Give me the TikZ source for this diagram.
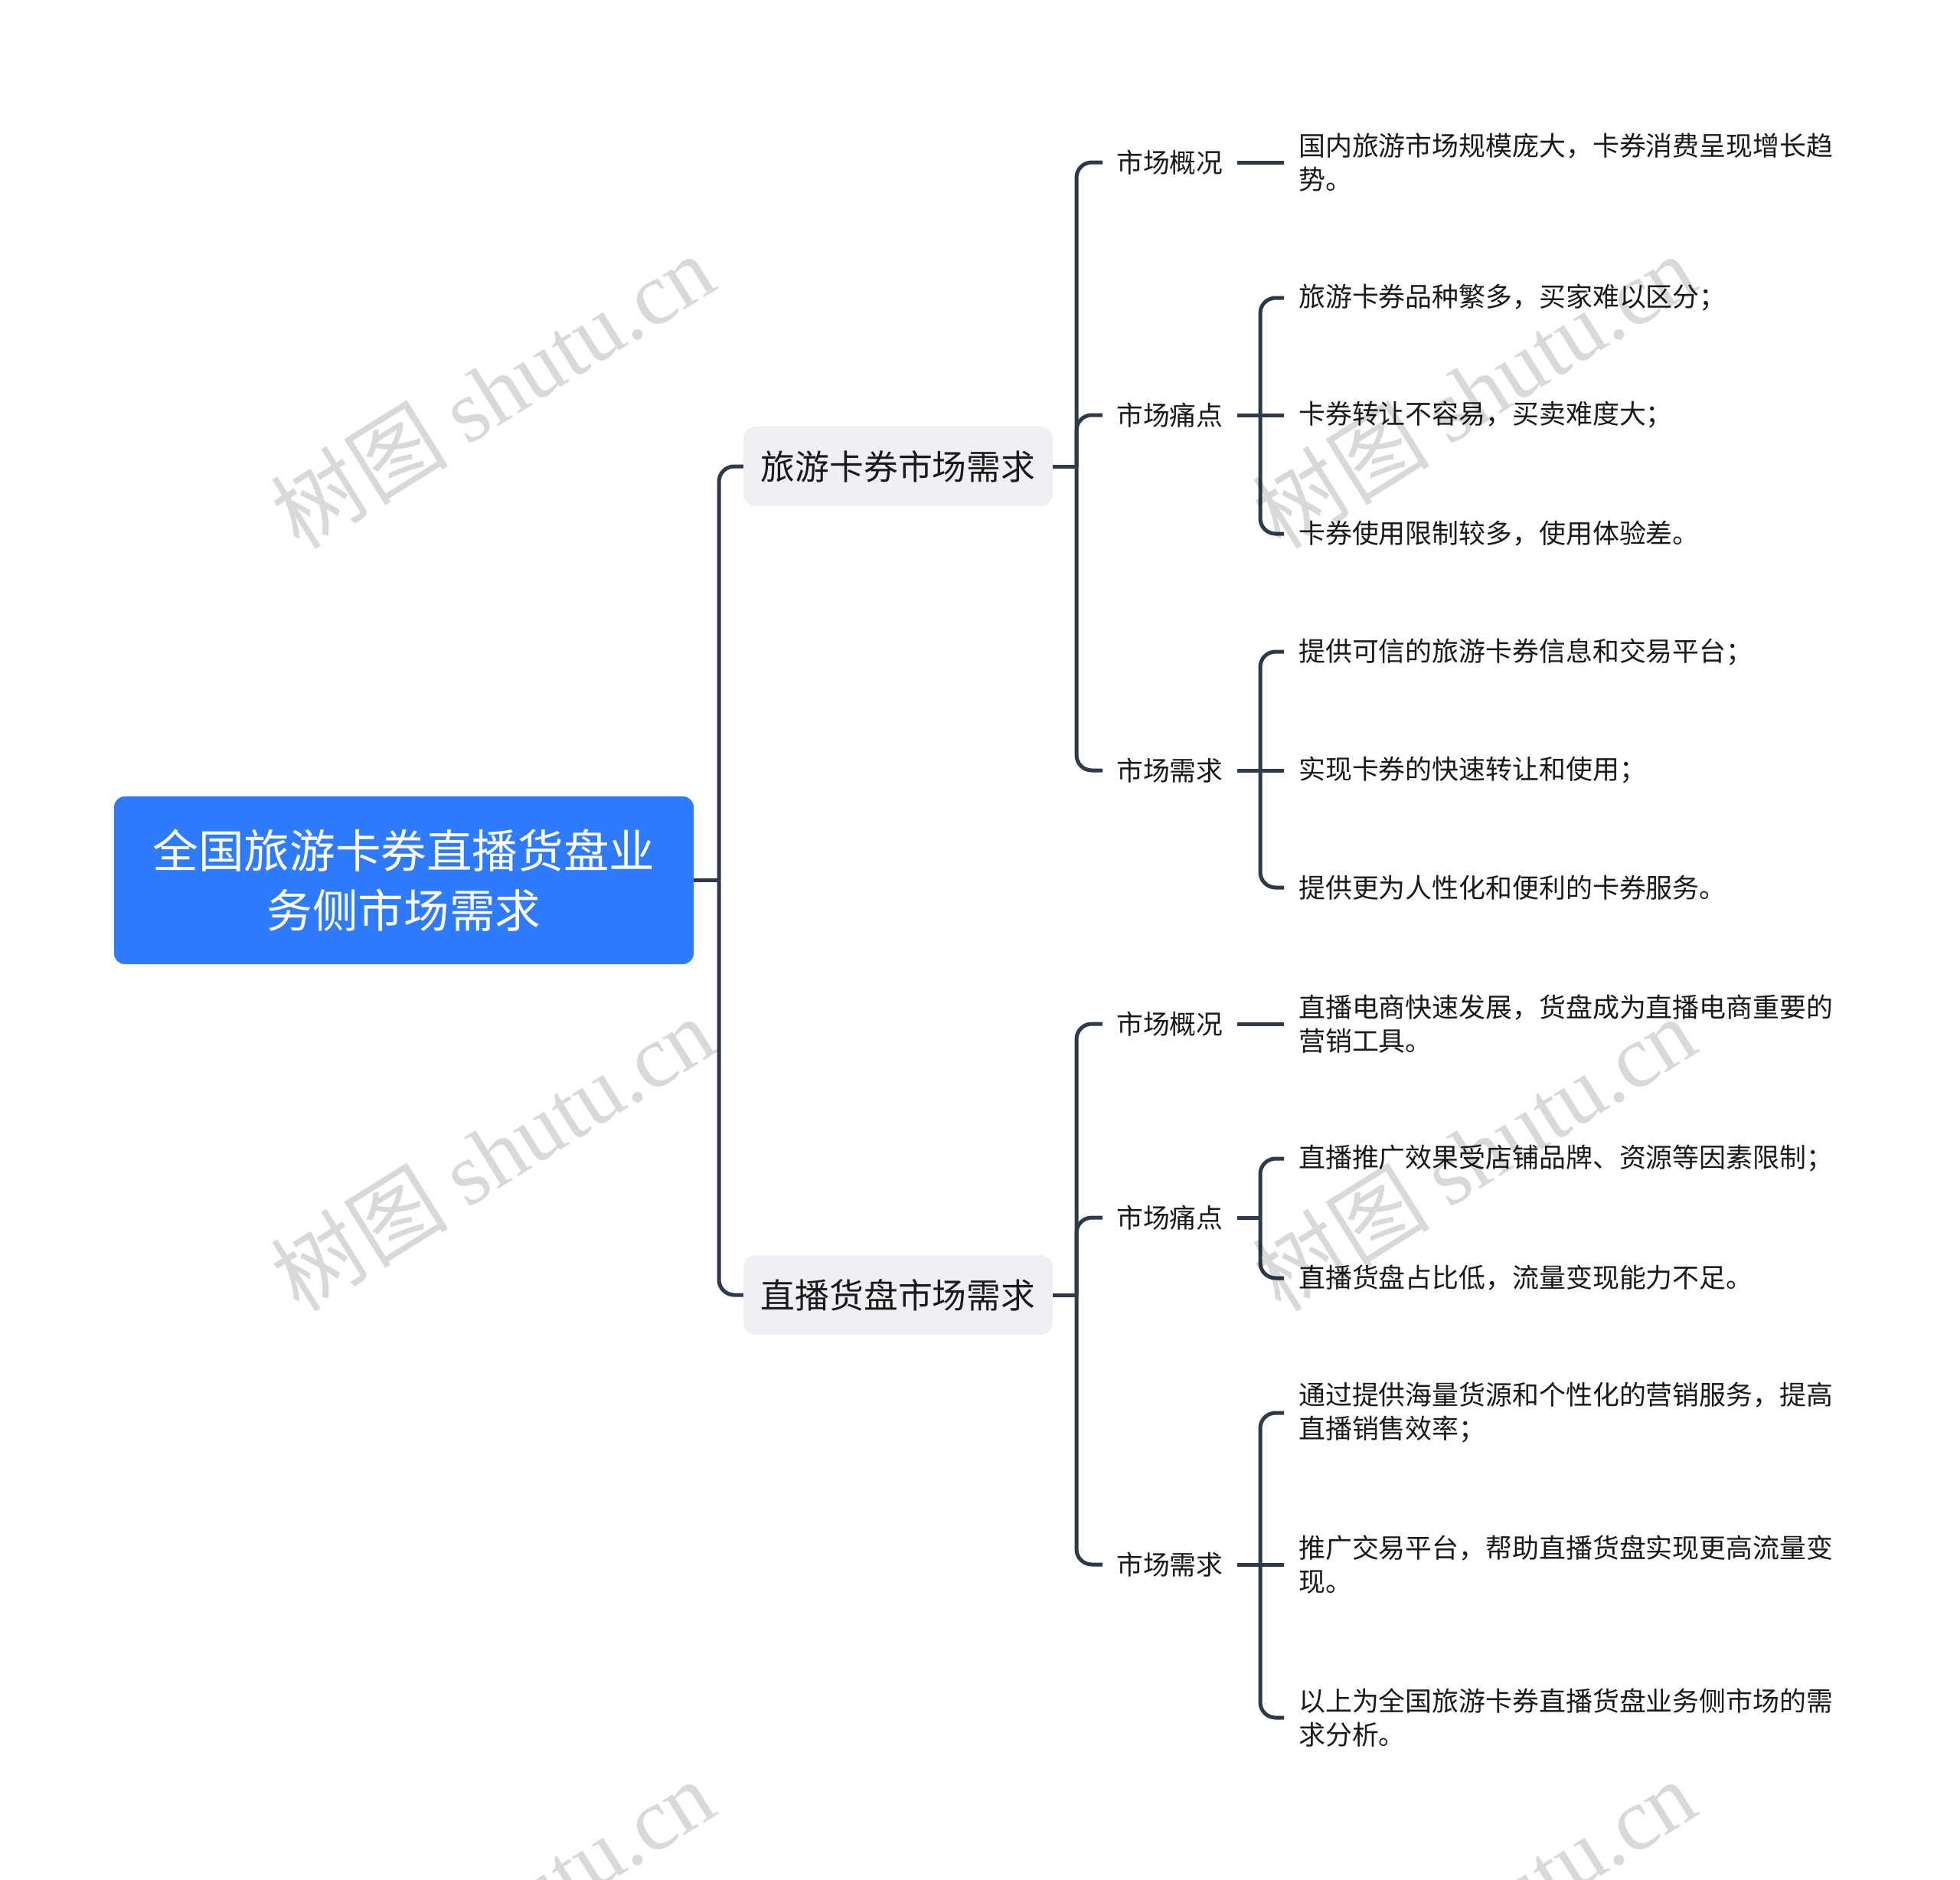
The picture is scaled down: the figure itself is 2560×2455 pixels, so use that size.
\documentclass[tikz,border=0pt]{standalone}
\usepackage{fontspec}
\setmainfont{Noto Sans CJK SC}
\newfontfamily\wmlatin{Liberation Serif}
\definecolor{rootblue}{HTML}{2F7BFF}
\definecolor{subgray}{HTML}{EEF0F3}
\definecolor{linec}{HTML}{2E3A4C}
\definecolor{txt}{HTML}{1A1A1A}
\begin{document}
\begin{tikzpicture}[x=1pt,y=-1pt,
 rootbox/.style={fill=rootblue, rounded corners=14pt, text=white, align=center, minimum width=757pt, minimum height=219pt, inner sep=0pt, font=\fontsize{59.6}{78}\selectfont},
 subbox/.style={fill=subgray, rounded corners=16pt, text=txt, minimum width=404pt, minimum height=104pt, inner sep=0pt, font=\fontsize{44.8}{52}\selectfont},
 lvltwo/.style={anchor=west, inner xsep=18pt, inner ysep=6pt, text=txt, font=\fontsize{34.8}{44}\selectfont},
 leaf/.style={anchor=west, inner xsep=19pt, inner ysep=6pt, text=txt, align=left, font=\fontsize{34.9}{44}\selectfont},
 conn/.style={draw=linec, line width=5pt},
 branch/.style={conn, rounded corners=20pt},
 wm/.style={rotate=32, text=black, text opacity=0.15, font=\fontsize{116}{116}\selectfont}
]
\fill[white] (0,0) rectangle (2560,2455);
\useasboundingbox (0,0) rectangle (2560,2455);

% root and level 1
\node[rootbox] (root) at (527.5,1149.5) {全国旅游卡券直播货盘业\\务侧市场需求};
\node[subbox] (A) at (1173,609) {旅游卡券市场需求};
\node[subbox] (B) at (1173,1691) {直播货盘市场需求};
\coordinate (rj) at (939,1149.5);
\draw[conn] (root.east) -- (rj);
\draw[branch] (rj) |- (A.west);
\draw[branch] (rj) |- (B.west);

% level 2, group A
\node[lvltwo] (A1) at (1440,212) {市场概况};
\node[lvltwo] (A2) at (1440,542) {市场痛点};
\node[lvltwo] (A3) at (1440,1006) {市场需求};
\coordinate (aj) at (1406,609);
\draw[conn] (A.east) -- (aj);
\draw[branch] (aj) |- (A1.west);
\draw[branch] (aj) |- (A2.west);
\draw[branch] (aj) |- (A3.west);

% leaves A1
\node[leaf] (A1a) at (1677,212) {国内旅游市场规模庞大，卡券消费呈现增长趋\\势。};
\draw[conn] (A1.east) -- (A1a.west);

% leaves A2
\node[leaf] (A2a) at (1677,389) {旅游卡券品种繁多，买家难以区分；};
\node[leaf] (A2b) at (1677,542) {卡券转让不容易，买卖难度大；};
\node[leaf] (A2c) at (1677,697) {卡券使用限制较多，使用体验差。};
\coordinate (a2j) at (1646,542);
\draw[conn] (A2.east) -- (a2j);
\draw[branch] (a2j) |- (A2a.west);
\draw[conn] (a2j) -- (A2b.west);
\draw[branch] (a2j) |- (A2c.west);

% leaves A3
\node[leaf] (A3a) at (1677,851) {提供可信的旅游卡券信息和交易平台；};
\node[leaf] (A3b) at (1677,1006) {实现卡券的快速转让和使用；};
\node[leaf] (A3c) at (1677,1159) {提供更为人性化和便利的卡券服务。};
\coordinate (a3j) at (1646,1006);
\draw[conn] (A3.east) -- (a3j);
\draw[branch] (a3j) |- (A3a.west);
\draw[conn] (a3j) -- (A3b.west);
\draw[branch] (a3j) |- (A3c.west);

% level 2, group B
\node[lvltwo] (B1) at (1440,1337) {市场概况};
\node[lvltwo] (B2) at (1440,1590) {市场痛点};
\node[lvltwo] (B3) at (1440,2043) {市场需求};
\coordinate (bj) at (1406,1691);
\draw[conn] (B.east) -- (bj);
\draw[branch] (bj) |- (B1.west);
\draw[branch] (bj) |- (B2.west);
\draw[branch] (bj) |- (B3.west);

% leaves B1
\node[leaf] (B1a) at (1677,1337) {直播电商快速发展，货盘成为直播电商重要的\\营销工具。};
\draw[conn] (B1.east) -- (B1a.west);

% leaves B2
\node[leaf] (B2a) at (1677,1513) {直播推广效果受店铺品牌、资源等因素限制；};
\node[leaf] (B2b) at (1677,1669) {直播货盘占比低，流量变现能力不足。};
\coordinate (b2j) at (1646,1590);
\draw[conn] (B2.east) -- (b2j);
\draw[branch] (b2j) |- (B2a.west);
\draw[branch] (b2j) |- (B2b.west);

% leaves B3
\node[leaf] (B3a) at (1677,1845) {通过提供海量货源和个性化的营销服务，提高\\直播销售效率；};
\node[leaf] (B3b) at (1677,2043) {推广交易平台，帮助直播货盘实现更高流量变\\现。};
\node[leaf] (B3c) at (1677,2243) {以上为全国旅游卡券直播货盘业务侧市场的需\\求分析。};
\coordinate (b3j) at (1646,2043);
\draw[conn] (B3.east) -- (b3j);
\draw[branch] (b3j) |- (B3a.west);
\draw[conn] (b3j) -- (B3b.west);
\draw[branch] (b3j) |- (B3c.west);

% watermarks
\node[wm] (w1) at (643,510) {树图 {\wmlatin shutu.cn}};
\node[wm] (w2) at (1925,510) {树图 {\wmlatin shutu.cn}};
\node[wm] (w3) at (643,1506) {树图 {\wmlatin shutu.cn}};
\node[wm] (w4) at (1925,1506) {树图 {\wmlatin shutu.cn}};
\node[wm] (w5) at (643,2502) {树图 {\wmlatin shutu.cn}};
\node[wm] (w6) at (1925,2502) {树图 {\wmlatin shutu.cn}};
\end{tikzpicture}
\end{document}
